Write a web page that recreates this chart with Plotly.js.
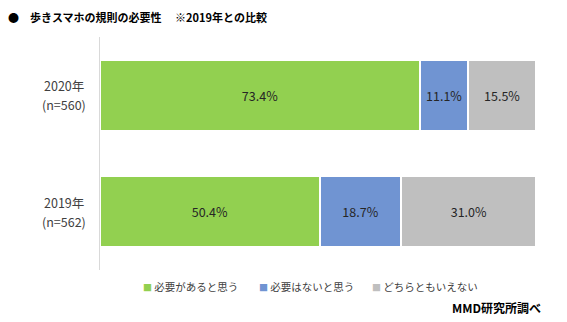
<!DOCTYPE html>
<html><head><meta charset="utf-8">
<script src="https://cdn.plot.ly/plotly-3.0.1.min.js"></script>
<style>html,body{margin:0;padding:0;background:#fff}#chart{width:567px;height:322px}</style>
</head><body><div id="chart"></div>
<script>
const years = ["2020年", "2019年"];
const sampleSizes = ["(n=560)", "(n=562)"];
const categories = years.map((y, i) => y + " " + sampleSizes[i]);
const seriesNames = ["必要があると思う", "必要はないと思う", "どちらともいえない"];
const needYes = [73.4, 50.4];
const needNo = [11.1, 18.7];
const neither = [15.5, 31.0];
const colors = ["#92d050", "#7094d2", "#bfbfbf"];

const font = "'Noto Sans CJK JP', 'Noto Sans', sans-serif";
const values = [needYes, needNo, neither];
const traces = values.map((v, i) => ({
  type: "bar", orientation: "h",
  y: categories, x: v, name: seriesNames[i],
  marker: {color: colors[i], line: {color: "#ffffff", width: 2}},
  text: v.map(d => d.toFixed(1) + "%"),
  textposition: "inside", insidetextanchor: "middle",
  textfont: {size: 12.5, color: "#262626", family: font},
  hoverinfo: "skip", showlegend: false
}));

const annotations = [];
categories.forEach((c, i) => {
  annotations.push({xref: "paper", yref: "y", x: -0.083, y: c, yshift: 9.5,
    xanchor: "center", yanchor: "middle", showarrow: false, text: years[i],
    font: {size: 12.5, color: "#404040", family: font}});
  annotations.push({xref: "paper", yref: "y", x: -0.083, y: c, yshift: -9.5,
    xanchor: "center", yanchor: "middle", showarrow: false, text: sampleSizes[i],
    font: {size: 12.5, color: "#404040", family: font}});
});

const legendX = [0.094, 0.359, 0.619];
seriesNames.forEach((n, i) => annotations.push({
  xref: "paper", yref: "paper", x: legendX[i], y: -0.069,
  xanchor: "left", yanchor: "middle", showarrow: false,
  text: '<span style="color:' + colors[i] + ';font-size:9px">■</span> ' + n,
  font: {size: 10.5, color: "#404040", family: font}
}));
annotations.push({
  xref: "paper", yref: "paper", x: 1.016, y: -0.16,
  xanchor: "right", yanchor: "middle", showarrow: false,
  text: "<b>MMD研究所調べ</b>",
  font: {size: 12, color: "#000", family: font}
});

const layout = {
  width: 567, height: 322,
  margin: {l: 100, r: 31, t: 37, b: 52},
  barmode: "stack", bargap: 0.39,
  paper_bgcolor: "#fff", plot_bgcolor: "#fff",
  title: {text: "<b>●　歩きスマホの規則の必要性　 ※2019年との比較</b>",
    x: 0.014, xanchor: "left", y: 0.944, yanchor: "middle",
    font: {size: 11, color: "#000", family: font}},
  xaxis: {range: [0, 100], showgrid: false, zeroline: false, showticklabels: false, fixedrange: true},
  yaxis: {type: "category", autorange: "reversed", showline: true, linecolor: "#d9d9d9", linewidth: 1,
    ticks: "", showticklabels: false, showgrid: false},
  annotations: annotations,
  showlegend: false
};
Plotly.newPlot("chart", traces, layout, {displayModeBar: false, staticPlot: true});
</script></body></html>
